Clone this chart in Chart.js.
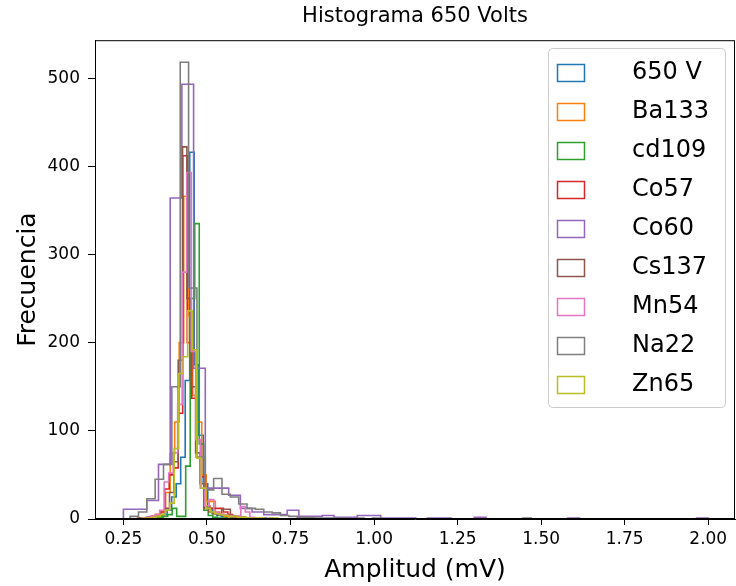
<!DOCTYPE html>
<html>
<head>
<meta charset="utf-8">
<script src="https://cdn.jsdelivr.net/npm/chart.js@4"></script>
<style>
  html, body { margin: 0; padding: 0; background: #fff; }
</style>
</head>
<body>
<canvas id="chartCanvas" width="736" height="586"></canvas>
<script>
// series shown in the legend, in plotting order
const seriesNames = ['650 V', 'Ba133', 'cd109', 'Co57', 'Co60', 'Cs137', 'Mn54', 'Na22', 'Zn65'];
const seriesColors = ['#1f77b4', '#ff7f0e', '#2ca02c', '#d62728', '#9467bd', '#8c564b', '#e377c2', '#7f7f7f', '#bcbd22'];

// left edge of the first bin and bin width (mV) for each histogram
const binStart = [0.3134, 0.3089, 0.3284, 0.2925, 0.25, 0.297, 0.3044, 0.27, 0.3074];
const binWidth = [0.0135, 0.0135, 0.0135, 0.0135, 0.035, 0.013, 0.0135, 0.025, 0.0135];

// counts per bin
const counts650V = [1, 2, 2, 3, 5, 10, 25, 40, 70, 157, 416, 175, 95, 40, 12, 6, 4, 3, 2, 2, 1, 1, 0, 1, 1, 0, 1];
const countsBa133 = [1, 2, 3, 5, 8, 30, 74, 110, 200, 366, 230, 140, 110, 50, 20, 20, 8, 5, 3, 2, 2, 1, 1, 0, 1, 1];
const countsCd109 = [1, 1, 2, 3, 5, 12, 3, 3, 60, 250, 335, 85, 10, 4, 2, 1, 1, 0, 1];
const countsCo57 = [1, 1, 2, 3, 5, 8, 34, 50, 58, 120, 412, 200, 137, 70, 48, 15, 12, 12, 12, 8, 5, 3, 2, 2, 1, 1, 0, 1];
const countsCo60 = [11, 11, 21, 62, 364, 493, 171, 35, 35, 27, 12, 8, 5, 5, 10, 3, 3, 4, 2, 2,
  4, 4, 1, 1, 1, 0, 1, 1, 0, 0, 2, 0, 0, 0, 0, 0, 0, 0, 1, 0, 0, 0, 0, 0, 0, 0, 0, 0, 0, 1];
const countsCs137 = [1, 1, 2, 2, 3, 5, 12, 30, 65, 180, 422, 250, 150, 75, 40, 12, 8, 6, 5, 11, 11, 4, 3, 2, 1, 1, 0, 1];
const countsMn54 = [1, 2, 3, 5, 10, 42, 52, 75, 130, 280, 393, 190, 90, 35, 15, 22, 8, 6, 5, 4, 3, 3, 14, 8, 2, 1, 1, 0, 1];
const countsNa22 = [3, 8, 23, 45, 62, 150, 518, 262, 70, 33, 46, 28, 25, 17, 12, 11, 8, 7, 4, 3,
  2, 2, 1, 1, 1, 1, 0, 1, 0, 1, 0, 0, 0, 0, 0, 0, 0, 0, 0, 0, 0, 0, 0, 0, 0, 0, 0, 1];
const countsZn65 = [1, 1, 2, 3, 5, 10, 18, 80, 165, 184, 236, 192, 69, 35, 12, 8, 6, 5, 4, 3, 3, 2, 2, 1, 1, 1, 1, 0, 1, 1];

const allCounts = [counts650V, countsBa133, countsCd109, countsCo57, countsCo60, countsCs137, countsMn54, countsNa22, countsZn65];

// axis ticks
const xTicks = [0.25, 0.5, 0.75, 1.0, 1.25, 1.5, 1.75, 2.0];
const yTicks = [0, 100, 200, 300, 400, 500];

// outline of a step histogram
const histPoints = (start, width, counts) => {
  const pts = [{ x: start, y: 0 }];
  counts.forEach((c, i) => pts.push({ x: start + i * width, y: c }));
  pts.push({ x: start + counts.length * width, y: 0 });
  return pts;
};

const datasets = seriesNames.map((name, i) => ({
  label: name,
  data: histPoints(binStart[i], binWidth[i], allCounts[i]),
  borderColor: seriesColors[i],
  borderWidth: 1.6,
  stepped: 'before',
  fill: false,
  pointRadius: 0,
  order: seriesNames.length - i, // later series drawn on top
}));

const frame = {
  id: 'frame',
  afterDatasetsDraw(chart) {
    const { ctx, chartArea: a } = chart;
    ctx.save();
    ctx.strokeStyle = '#000';
    ctx.lineWidth = 1;
    ctx.strokeRect(a.left + 0.5, a.top + 0.5, a.right - a.left - 1, a.bottom - a.top - 1);
    ctx.restore();
  }
};

const boxLegend = {
  id: 'boxLegend',
  afterDraw(chart) {
    const ctx = chart.ctx;
    ctx.save();
    ctx.fillStyle = 'rgba(255,255,255,0.8)';
    ctx.strokeStyle = '#cccccc';
    ctx.lineWidth = 1;
    ctx.beginPath();
    ctx.roundRect(548.5, 48.5, 177, 359, 4);
    ctx.fill();
    ctx.stroke();
    ctx.font = '24px "DejaVu Sans"';
    ctx.textBaseline = 'middle';
    ctx.textAlign = 'left';
    seriesNames.forEach((name, i) => {
      const y = 73 + i * 39;
      ctx.strokeStyle = seriesColors[i];
      ctx.lineWidth = 1.5;
      ctx.strokeRect(557.5, y - 8.5, 27, 17);
      ctx.fillStyle = '#000';
      ctx.fillText(name, 632, y);
    });
    ctx.restore();
  }
};

Chart.defaults.font.family = '"DejaVu Sans", sans-serif';
Chart.defaults.color = '#000';

new Chart(document.getElementById('chartCanvas').getContext('2d'), {
  type: 'line',
  data: { datasets },
  plugins: [frame, boxLegend],
  options: {
    responsive: false,
    devicePixelRatio: 1,
    animation: false,
    events: [],
    layout: { padding: { right: 1, left: 0, top: 0, bottom: 0 } },
    plugins: {
      legend: { display: false },
      tooltip: { enabled: false },
      title: {
        display: true,
        text: 'Histograma 650 Volts',
        fullSize: false,
        font: { size: 21, weight: 'normal' },
        padding: { top: 4, bottom: 11 },
        color: '#000',
      },
    },
    scales: {
      x: {
        type: 'linear',
        min: 0.165,
        max: 2.08,
        afterFit: (s) => { s.height = 67; },
        afterBuildTicks: (s) => { s.ticks = xTicks.map(v => ({ value: v })); },
        ticks: {
          font: { size: 17 },
          padding: 4,
          maxRotation: 0,
          autoSkip: false,
          callback: (v) => v.toFixed(2),
        },
        grid: { drawOnChartArea: false, drawTicks: true, tickLength: 6, color: '#000' },
        border: { color: '#000', width: 1 },
        title: {
          display: true,
          text: 'Amplitud (mV)',
          font: { size: 25 },
          padding: { top: 0, bottom: 1 },
        },
      },
      y: {
        min: 0,
        max: 543,
        afterFit: (s) => { s.width = 95; },
        afterBuildTicks: (s) => { s.ticks = yTicks.map(v => ({ value: v })); },
        ticks: { font: { size: 17 }, padding: 8 },
        grid: { drawOnChartArea: false, drawTicks: true, tickLength: 7, color: '#000' },
        border: { color: '#000', width: 1 },
        title: {
          display: true,
          text: 'Frecuencia',
          font: { size: 25 },
          padding: { top: 13, bottom: 0 },
        },
      },
    },
  },
});
</script>
</body>
</html>
